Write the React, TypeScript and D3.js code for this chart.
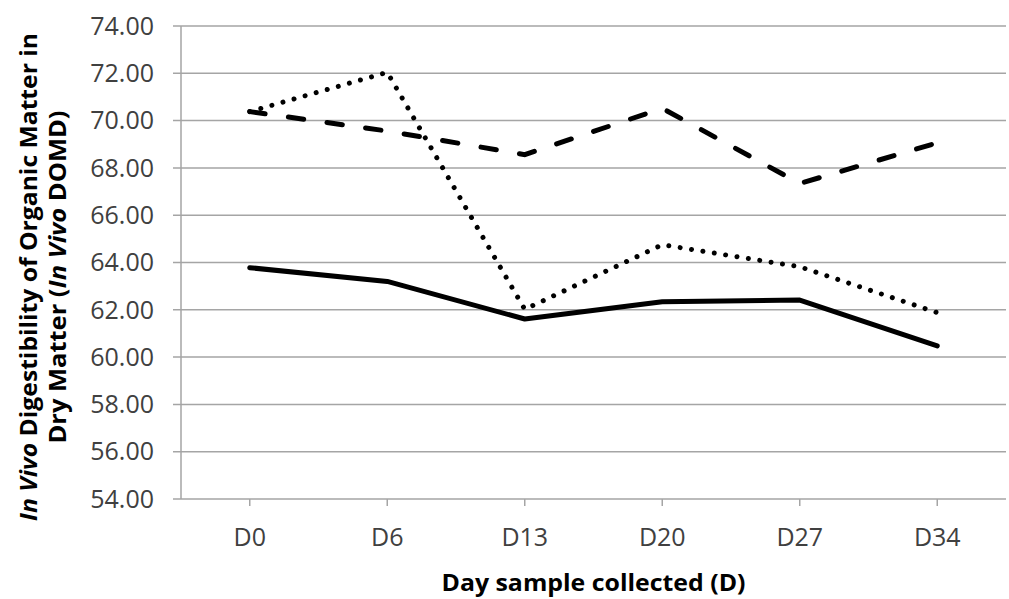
import React from "react";
import * as d3 from "d3";

// Sampling days along the x axis
const days = ["D0", "D6", "D13", "D20", "D27", "D34"];

// In vivo DOMD per sampling day, one array per treatment
const dottedSeries = [70.38, 72.04, 62.02, 64.75, 63.82, 61.88];
const dashedSeries = [70.38, 69.56, 68.56, 70.52, 67.34, 69.06];
const solidSeries = [63.78, 63.2, 61.61, 62.34, 62.41, 60.47];

const yTicks = [54, 56, 58, 60, 62, 64, 66, 68, 70, 72, 74];

const W = 1009;
const H = 599;
const plot = { left: 181, right: 1006, top: 26, bottom: 499 };

export default function App() {
  const x = d3
    .scaleBand<string>()
    .domain(days)
    .range([plot.left, plot.right])
    .paddingInner(0)
    .paddingOuter(0);
  const y = d3.scaleLinear().domain([54, 74]).range([plot.bottom, plot.top]);
  const cx = (d: string) => (x(d) as number) + x.bandwidth() / 2;

  const line = d3
    .line<number>()
    .x((_, i) => cx(days[i]))
    .y((v) => y(v));

  const font = "'Open Sans', 'DejaVu Sans', sans-serif";
  const textColor = "#404040";
  const gridColor = "#a5a5a5";

  return (
    <svg
      width={W}
      height={H}
      style={{ position: "absolute", left: 0, top: 0, background: "#fff" }}
    >
      {/* horizontal gridlines, extending slightly left as tick marks */}
      {yTicks.map((t) => (
        <line
          key={"g" + t}
          x1={plot.left - 8}
          x2={plot.right}
          y1={y(t)}
          y2={y(t)}
          stroke={gridColor}
          strokeWidth={1.5}
        />
      ))}
      {/* y axis line */}
      <line
        x1={plot.left}
        x2={plot.left}
        y1={plot.top}
        y2={plot.bottom}
        stroke={gridColor}
        strokeWidth={1.5}
      />
      {/* x axis tick marks at category centres */}
      {days.map((d) => (
        <line
          key={"xt" + d}
          x1={cx(d)}
          x2={cx(d)}
          y1={plot.bottom}
          y2={plot.bottom + 7}
          stroke={gridColor}
          strokeWidth={1.5}
        />
      ))}

      {/* y tick labels */}
      {yTicks.map((t) => (
        <text
          key={"yl" + t}
          x={154}
          y={y(t)}
          dy="0.35em"
          textAnchor="end"
          fontFamily={font}
          fontSize={25}
          fill={textColor}
        >
          {t.toFixed(2)}
        </text>
      ))}

      {/* x tick labels */}
      {days.map((d) => (
        <text
          key={"xl" + d}
          x={cx(d)}
          y={546}
          textAnchor="middle"
          fontFamily={font}
          fontSize={25}
          fill={textColor}
        >
          {d}
        </text>
      ))}

      {/* series */}
      <path
        d={line(solidSeries) ?? ""}
        fill="none"
        stroke="#000"
        strokeWidth={5}
        strokeLinejoin="round"
        strokeLinecap="round"
      />
      <path
        d={line(dashedSeries) ?? ""}
        fill="none"
        stroke="#000"
        strokeWidth={5}
        strokeLinecap="round"
        strokeDasharray="15.5 23.5"
      />
      <path
        d={line(dottedSeries) ?? ""}
        fill="none"
        stroke="#000"
        strokeWidth={5}
        strokeLinecap="round"
        strokeDasharray="0.01 11.5"
      />

      {/* x axis title */}
      <text
        x={(plot.left + plot.right) / 2}
        y={591}
        textAnchor="middle"
        fontFamily={font}
        fontWeight="bold"
        fontSize={23}
        fill="#000"
        textLength={304}
        lengthAdjust="spacingAndGlyphs"
      >
        Day sample collected (D)
      </text>

      {/* y axis title, two lines rotated */}
      <g transform="translate(0,277) rotate(-90)">
        <text
          x={0}
          y={37}
          textAnchor="middle"
          fontFamily={font}
          fontWeight="bold"
          fontSize={24}
          fill="#000"
          textLength={488}
          lengthAdjust="spacingAndGlyphs"
        >
          <tspan fontStyle="italic">In Vivo</tspan> Digestibility of Organic Matter in
        </text>
        <text
          x={0}
          y={66}
          textAnchor="middle"
          fontFamily={font}
          fontWeight="bold"
          fontSize={24}
          fill="#000"
          textLength={333}
          lengthAdjust="spacingAndGlyphs"
        >
          Dry Matter (<tspan fontStyle="italic">In Vivo</tspan> DOMD)
        </text>
      </g>
    </svg>
  );
}
